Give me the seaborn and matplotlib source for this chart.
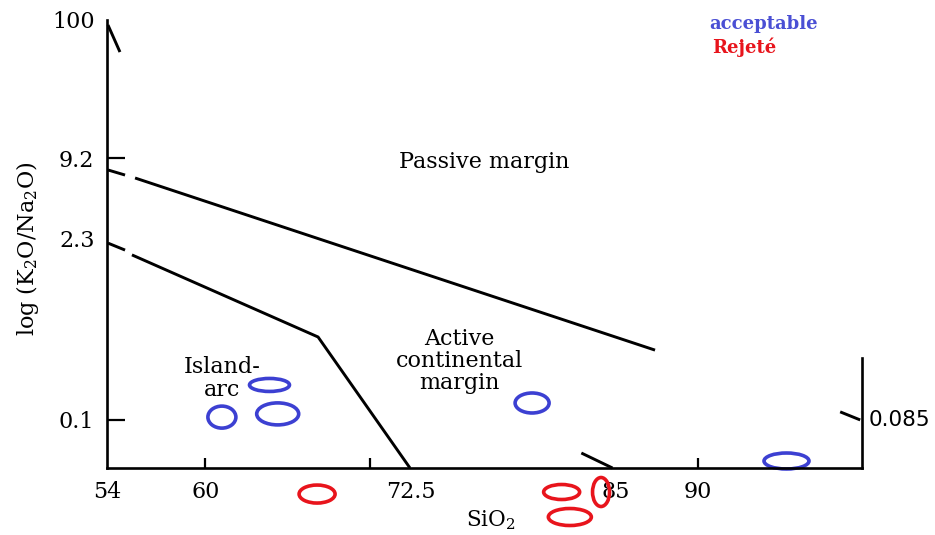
import numpy as np
import pandas as pd
import matplotlib
matplotlib.use("Agg")
import matplotlib.pyplot as plt
from matplotlib.collections import EllipseCollection
import seaborn as sns

# --- axis labelling -------------------------------------------------------
x_tick_values = [54, 60, 72.5, 85, 90]
x_tick_labels = ["54", "60", "72.5", "85", "90"]
x_small_ticks = [60, 70, 90]
y_tick_values = [0.1, 2.3, 9.2, 100]
y_tick_labels = ["0.1", "2.3", "9.2", "100"]
y_small_ticks = [0.1, 9.2]
x_range = [54, 100]
y_range = [0.0436, 100]

# --- field boundaries (SiO2, K2O/Na2O) ------------------------------------
pm_acm_x = [55.71, 87.39]          # passive margin / active margin
pm_acm_y = [6.53, 0.334]
pm_acm_lead_x = [54.06, 55.10]
pm_acm_lead_y = [7.50, 6.87]
arc_acm_x = [55.52, 66.86, 72.46]  # island arc / active margin
arc_acm_y = [1.73, 0.419, 0.0436]
arc_acm_lead_x = [54.06, 55.10]
arc_acm_lead_y = [2.12, 1.88]
top_stub_x = [54.06, 54.79]
top_stub_y = [91.7, 57.5]
mid_stub_x = [82.9, 84.8]
mid_stub_y = [0.0565, 0.0436]
right_stub_x = [98.67, 99.89]
right_stub_y = [0.115, 0.1]

# --- samples --------------------------------------------------------------
accept_x = [61.0, 63.9, 64.4, 79.9, 95.4]
accept_y = [0.105, 0.183, 0.111, 0.134, 0.0492]
accept_w = [28, 40, 42, 34, 45]
accept_h = [22, 13, 22, 20, 16]
reject_x = [66.8, 81.7, 84.1, 82.2]
reject_y = [0.0278, 0.0288, 0.0288, 0.0187]
reject_w = [36, 36, 17, 43]
reject_h = [18, 15, 29, 17]

BLUE = "#3c40d2"
RED = "#e8141c"
SERIF = ["DejaVu Serif", "DejaVu Sans"]

sns.set_theme(style="white")
plt.rcParams["font.family"] = SERIF
plt.rcParams["mathtext.fontset"] = "dejavuserif"
plt.rcParams["text.color"] = "black"
plt.rcParams["axes.labelcolor"] = "black"

fig = plt.figure(figsize=(9.35, 5.35), dpi=100)
ax = fig.add_axes([107 / 935, 1 - 468 / 535, (862 - 107) / 935, (468 - 20) / 535])
ax.set_yscale("log")
ax.set_xlim(*x_range)
ax.set_ylim(*y_range)

segments = []
for sid, (xs, ys) in enumerate([
    (pm_acm_x, pm_acm_y), (pm_acm_lead_x, pm_acm_lead_y),
    (arc_acm_x, arc_acm_y), (arc_acm_lead_x, arc_acm_lead_y),
    (top_stub_x, top_stub_y), (mid_stub_x, mid_stub_y),
    (right_stub_x, right_stub_y)]):
    segments.append(pd.DataFrame({"x": xs, "y": ys, "seg": sid}))
lines = pd.concat(segments, ignore_index=True)
sns.lineplot(data=lines, x="x", y="y", units="seg", estimator=None,
             sort=False, color="black", linewidth=2.1, ax=ax, legend=False)
for ln in ax.lines:
    ln.set_clip_on(False)
    ln.set_solid_capstyle("butt")

# spines
ax.spines["top"].set_visible(False)
for side in ["left", "bottom", "right"]:
    ax.spines[side].set_color("black")
    ax.spines[side].set_linewidth(1.9)
ax.spines["right"].set_bounds(y_range[0], 0.291)

# ticks
ax.xaxis.remove_overlapping_locs = False
ax.yaxis.remove_overlapping_locs = False
ax.set_xticks(x_tick_values)
ax.set_xticklabels(x_tick_labels)
ax.set_xticks(x_small_ticks, minor=True)
ax.set_yticks(y_tick_values)
ax.set_yticklabels(y_tick_labels)
ax.set_yticks(y_small_ticks, minor=True)
ax.xaxis.set_minor_formatter(matplotlib.ticker.NullFormatter())
ax.yaxis.set_minor_formatter(matplotlib.ticker.NullFormatter())
ax.tick_params(axis="both", which="major", length=0, labelsize=16, colors="black")
ax.tick_params(axis="x", which="major", pad=9)
ax.tick_params(axis="y", which="major", pad=9)
ax.tick_params(axis="x", which="minor", direction="in", length=7, width=1.6,
               bottom=True, color="black")
ax.tick_params(axis="y", which="minor", direction="in", length=13, width=1.6,
               left=True, right=False, color="black")

ax.set_xlabel("SiO$_2$", fontsize=15.5)
ax.set_ylabel("log (K$_2$O/Na$_2$O)", fontsize=16)
ax.yaxis.set_label_coords(-0.087, 0.49)
ax.xaxis.set_label_coords(0.508, -0.09)

# right-hand scale value
ax.annotate("0.085", xy=(100, 0.1), xytext=(5, 0), textcoords="offset points",
            ha="left", va="center", fontsize=15.5, family="DejaVu Sans",
            annotation_clip=False)

# field names
ax.text(77.0, 8.6, "Passive margin", fontsize=16, ha="center", va="center")
ax.text(61.0, 0.206, "Island-\narc", fontsize=16, ha="center", va="center",
        linespacing=1.05)
ax.text(75.45, 0.277, "Active\ncontinental\nmargin", fontsize=16, ha="center",
        va="center", linespacing=1.0)

# sample ellipses (sizes in pixels, centred on the data values)
for xs, ys, ws, hs, col in [(accept_x, accept_y, accept_w, accept_h, BLUE),
                            (reject_x, reject_y, reject_w, reject_h, RED)]:
    ec = EllipseCollection(ws, hs, np.zeros(len(ws)), units="dots",
                           offsets=np.column_stack([xs, ys]),
                           offset_transform=ax.transData,
                           facecolors="none", edgecolors=col, linewidths=2.6)
    ec.set_clip_on(False)
    ax.add_collection(ec)

# legend text
fig.text(709 / 935, 1 - 24 / 535, "acceptable", color="#4a4fd4", fontsize=13,
         fontweight="bold", ha="left", va="center")
fig.text(712 / 935, 1 - 47 / 535, "Rejeté", color=RED, fontsize=13,
         fontweight="bold", ha="left", va="center")

fig.savefig("out.png", dpi=100, facecolor="white")
